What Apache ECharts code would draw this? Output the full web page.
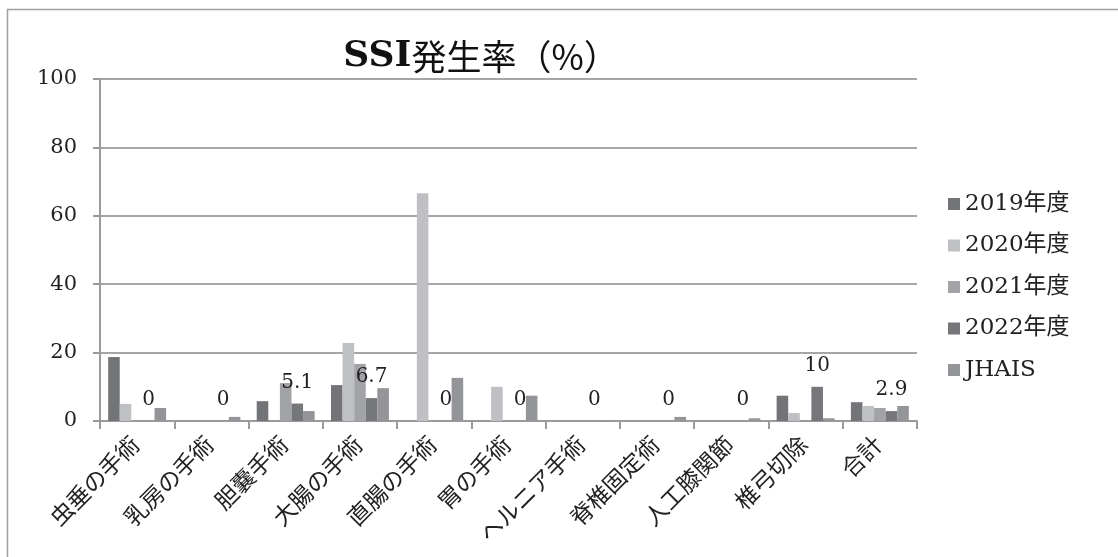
<!DOCTYPE html>
<html>
<head>
<meta charset="utf-8">
<script src="https://cdn.jsdelivr.net/npm/echarts@6/dist/echarts.min.js"></script>
<style>
html,body{margin:0;padding:0;background:#fff;}
#chart{width:1118px;height:557px;}
</style>
</head>
<body>
<div id="chart"></div>
<script>
var categories = ['虫垂の手術', '乳房の手術', '胆嚢手術', '大腸の手術', '直腸の手術', '胃の手術', 'ヘルニア手術', '脊椎固定術', '人工膝関節', '椎弓切除', '合計'];
var seriesNames = ['2019年度', '2020年度', '2021年度', '2022年度', 'JHAIS'];
var v2019 = [18.7, 0, 5.8, 10.5, 0, 0, 0, 0, 0, 7.4, 5.5];
var v2020 = [5.0, 0, 0, 22.8, 66.6, 10.0, 0, 0, 0, 2.3, 4.4];
var v2021 = [0, 0, 11.1, 16.7, 0, 0, 0, 0, 0, 0, 3.8];
var v2022 = [0, 0, 5.1, 6.7, 0, 0, 0, 0, 0, 10, 2.9];
var vJhais = [3.8, 1.2, 2.9, 9.6, 12.6, 7.4, 0.3, 1.2, 0.8, 0.8, 4.4];
var colors = ['#737477', '#bfc0c3', '#a2a3a6', '#76777a', '#949598'];

var serif = "'DejaVu Serif', 'Noto Sans CJK JP', serif";
var chart = echarts.init(document.getElementById('chart'));

function makeSeries(name, data, idx) {
    var s = {
        name: name,
        type: 'bar',
        data: data,
        barGap: '0%',
        barCategoryGap: '22%',
        itemStyle: { color: colors[idx] },
        emphasis: { disabled: true }
    };
    // only 2022 has value labels in the original
    if (name === '2022年度') {
        s.label = {
            show: true,
            position: 'top',
            distance: 11,
            color: '#222',
            fontSize: 20,
            fontFamily: serif
        };
    }
    return s;
}

var option = {
    animation: false,
    backgroundColor: '#fff',
    title: {
        text: '{a|SSI}{b|発生率（%）}',
        left: 476,
        textAlign: 'center',
        top: 34,
        textStyle: {
            rich: {
                a: { fontFamily: serif, fontSize: 36, fontWeight: 'bold', color: '#111' },
                b: { fontFamily: "'Noto Sans CJK JP', sans-serif", fontSize: 35, fontWeight: 'normal', color: '#111' }
            }
        }
    },
    graphic: [{
        type: 'rect',
        shape: { x: 7.5, y: 9.5, width: 1200, height: 700 },
        style: { fill: 'none', stroke: '#a0a0a0', lineWidth: 1.5 },
        silent: true
    }],
    legend: {
        orient: 'vertical',
        left: 943,
        top: 187,
        itemGap: 17.5,
        itemWidth: 12,
        itemHeight: 12,
        icon: 'rect',
        textStyle: { fontFamily: serif, fontSize: 23, lineHeight: 24, color: '#222' },
        data: seriesNames
    },
    grid: {
        left: 100,
        right: 201,
        top: 79,
        bottom: 136,
        containLabel: false
    },
    xAxis: {
        type: 'category',
        data: categories,
        axisLine: { lineStyle: { color: '#9a9a9a', width: 2 } },
        axisTick: { show: true, length: 8, lineStyle: { color: '#9a9a9a', width: 2 } },
        axisLabel: {
            rotate: 45,
            interval: 0,
            margin: 21,
            fontFamily: serif,
            fontSize: 23,
            color: '#222'
        }
    },
    yAxis: {
        type: 'value',
        min: 0,
        max: 100,
        interval: 20,
        axisLine: { show: true, lineStyle: { color: '#9a9a9a', width: 2 } },
        axisTick: { show: true, length: 7, lineStyle: { color: '#9a9a9a', width: 2 } },
        splitLine: { lineStyle: { color: '#a6a6a6', width: 2 } },
        axisLabel: {
            margin: 23,
            fontFamily: serif,
            fontSize: 21,
            color: '#222'
        }
    },
    series: [
        makeSeries(seriesNames[0], v2019, 0),
        makeSeries(seriesNames[1], v2020, 1),
        makeSeries(seriesNames[2], v2021, 2),
        makeSeries(seriesNames[3], v2022, 3),
        makeSeries(seriesNames[4], vJhais, 4)
    ]
};
chart.setOption(option);
</script>
</body>
</html>
